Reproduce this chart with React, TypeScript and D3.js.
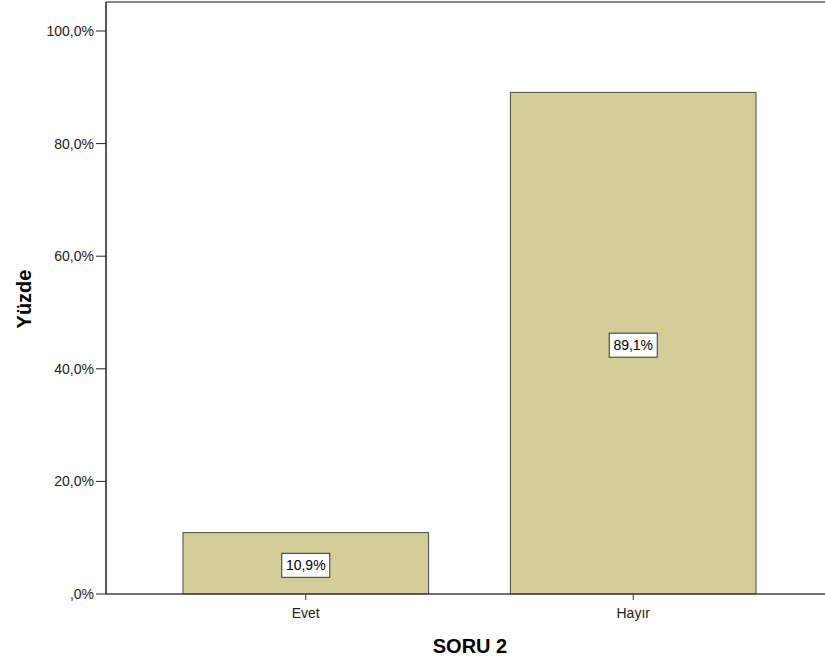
import React from "react";
import * as d3 from "d3";

const categories = ["Evet", "Hayır"];
const percents = [10.9, 89.1];
const yTicks = [0, 20, 40, 60, 80, 100];

const W = 825, H = 660;
const left = 106, right = 833, top = 2, bottom = 594;

const fmt = (v: number) => {
  const s = v.toFixed(1).replace(".", ",");
  return v === 0 ? ",0%" : s + "%";
};

export default function App() {
  const y = d3.scaleLinear().domain([0, 100]).range([bottom, 31]);
  const x = d3.scaleBand<string>().domain(categories).range([left, right]).paddingInner(0.25).paddingOuter(0.235);
  const font = "'Liberation Sans', Arial, sans-serif";
  return (
    <svg width={W} height={H} style={{ position: "absolute", left: 0, top: 0, fontFamily: font }}>
      <rect x={0} y={0} width={W} height={H} fill="#fff" />
      <line x1={left} x2={W} y1={top} y2={top} stroke="#888" strokeWidth={2} />
      {categories.map((c, i) => {
        const x0 = x(c)!;
        const bw = x.bandwidth();
        const yt = y(percents[i]);
        const cy = (yt + bottom) / 2 + 2;
        const label = fmt(percents[i]);
        return (
          <g key={c}>
            <rect x={x0} y={yt} width={bw} height={bottom - yt} fill="#d3ce97" stroke="#4a4a4a" strokeWidth={1} />
            <rect x={x0 + bw / 2 - 24} y={cy - 12} width={48} height={24} fill="#fff" stroke="#333" strokeWidth={1} />
            <text x={x0 + bw / 2} y={cy + 5} textAnchor="middle" fontSize={14} fill="#000">{label}</text>
            <line x1={x0 + bw / 2} x2={x0 + bw / 2} y1={bottom} y2={bottom + 6} stroke="#333" />
            <text x={x0 + bw / 2} y={bottom + 24} textAnchor="middle" fontSize={14} fill="#222">{c}</text>
          </g>
        );
      })}
      <line x1={left} x2={W} y1={bottom} y2={bottom} stroke="#444" strokeWidth={1.5} />
      <line x1={left} x2={left} y1={top} y2={bottom} stroke="#222" strokeWidth={1.5} />
      {yTicks.map((t) => (
        <g key={t}>
          <line x1={left - 10} x2={left} y1={y(t)} y2={y(t)} stroke="#222" />
          <text x={94} y={y(t) + 5} textAnchor="end" fontSize={14} fill="#222">{fmt(t)}</text>
        </g>
      ))}
      <text transform={`translate(31,299) rotate(-90)`} textAnchor="middle" fontSize={20} fontWeight="bold" fill="#000">Yüzde</text>
      <text x={470} y={653} textAnchor="middle" fontSize={20} fontWeight="bold" fill="#000">SORU 2</text>
    </svg>
  );
}
